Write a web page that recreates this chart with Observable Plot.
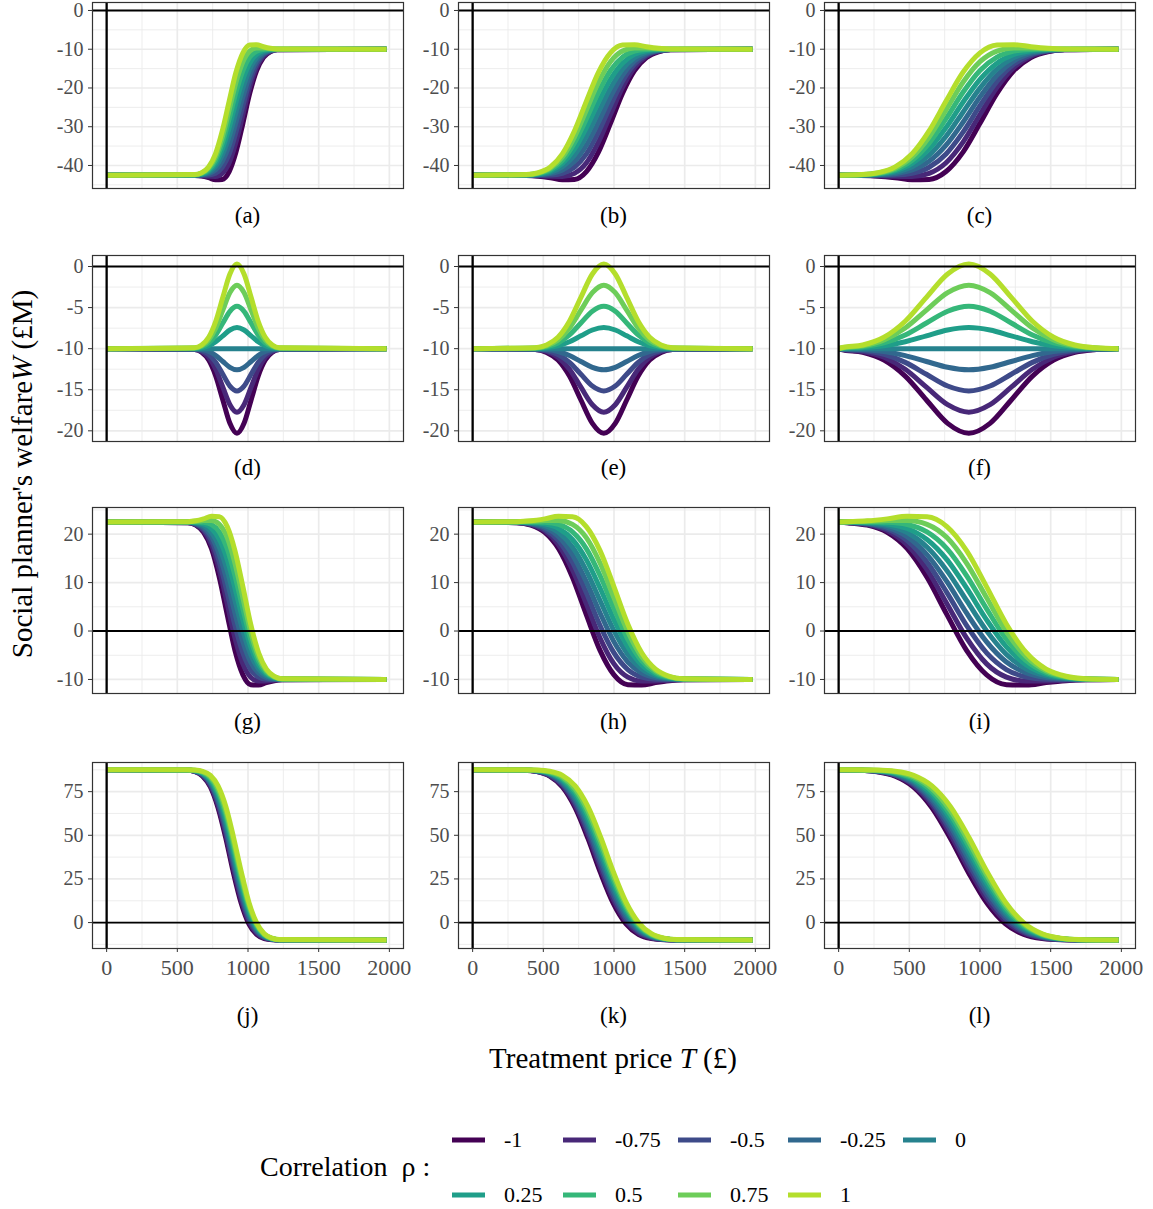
<!DOCTYPE html>
<html><head><meta charset="utf-8">
<script src="https://cdn.jsdelivr.net/npm/d3@7"></script>
<script src="https://cdn.jsdelivr.net/npm/@observablehq/plot@0.6"></script>
<style>
body{margin:0;background:#fff;}
#chart{position:relative;width:1153px;height:1209px;font-family:"Liberation Serif","Times New Roman",serif;background:#fff;overflow:hidden;color:#000}
.txt{position:absolute;white-space:nowrap;transform:translate(-50%,-50%);line-height:1}
.ltxt{position:absolute;white-space:nowrap;transform:translate(0,-50%);line-height:1}
.sw{position:absolute;height:5px;width:33px;transform:translate(0,-50%)}
</style></head><body><div id="chart"></div>
<script>
// ---- data ----
const rhos = [-1, -0.75, -0.5, -0.25, 0, 0.25, 0.5, 0.75, 1];
const rhoLabels = ["-1", "-0.75", "-0.5", "-0.25", "0", "0.25", "0.5", "0.75", "1"];
const rhoColors = ["#440154", "#482878", "#3E4A89", "#31688E", "#26828E", "#1F9E89", "#35B779", "#6DCD59", "#B4DE2C"];
const panelLabels = ["(a)", "(b)", "(c)", "(d)", "(e)", "(f)", "(g)", "(h)", "(i)", "(j)", "(k)", "(l)"];

// treatment price T (£) sample points for each panel
const priceA = [0, 624, 673, 721, 770, 818, 867, 915, 964, 1012, 1061, 1109, 1158, 1206, 1980];
const priceB = [0, 380, 465, 550, 635, 720, 805, 890, 975, 1060, 1145, 1230, 1315, 1400, 1980];
const priceC = [0, 160, 280, 400, 520, 640, 760, 880, 1000, 1120, 1240, 1360, 1480, 1600, 1980];
const priceD = [0, 622, 672, 722, 772, 822, 872, 922, 972, 1022, 1072, 1122, 1172, 1222, 1980];
const priceE = [0, 442, 523, 604, 685, 766, 847, 928, 1009, 1090, 1171, 1252, 1333, 1414, 1980];
const priceF = [0, 21, 171, 321, 471, 621, 771, 921, 1071, 1221, 1371, 1521, 1671, 1821, 1980];
const priceG = [0, 575, 631, 686, 742, 797, 853, 908, 964, 1019, 1075, 1130, 1186, 1241, 1980];
const priceH = [0, 314, 412, 510, 608, 706, 804, 902, 1000, 1098, 1196, 1294, 1392, 1490, 1980];
const priceI = [0, 63, 204, 344, 485, 625, 766, 906, 1047, 1187, 1328, 1468, 1609, 1749, 1980];
const priceJ = [0, 570, 625, 679, 734, 788, 843, 897, 952, 1006, 1061, 1115, 1170, 1224, 1980];
const priceK = [0, 365, 455, 545, 635, 725, 815, 905, 995, 1085, 1175, 1265, 1355, 1445, 1980];
const priceL = [0, 140, 270, 400, 530, 660, 790, 920, 1050, 1180, 1310, 1440, 1570, 1700, 1980];

// welfare W (£M), one list per rho (-1 ... 1), per row of panels
const welfareRow1 = [
  [-42.5, -42.57, -42.75, -43.15, -43.67, -43.59, -41.56, -36.55, -29.12, -21.41, -15.51, -12.13, -10.65, -10.15, -10],
  [-42.5, -42.55, -42.64, -42.81, -42.84, -42.03, -39.29, -33.98, -26.85, -19.85, -14.68, -11.79, -10.54, -10.13, -10],
  [-42.5, -42.52, -42.53, -42.46, -42.00, -40.46, -37.02, -31.40, -24.58, -18.28, -13.84, -11.44, -10.43, -10.10, -10],
  [-42.5, -42.49, -42.41, -42.11, -41.17, -38.90, -34.74, -28.83, -22.30, -16.72, -13.01, -11.09, -10.31, -10.07, -10],
  [-42.5, -42.46, -42.30, -41.76, -40.33, -37.34, -32.47, -26.25, -20.03, -15.16, -12.17, -10.74, -10.20, -10.04, -10],
  [-42.5, -42.43, -42.19, -41.41, -39.49, -35.78, -30.20, -23.67, -17.76, -13.60, -11.33, -10.39, -10.09, -10.01, -10],
  [-42.5, -42.40, -42.07, -41.06, -38.66, -34.22, -27.92, -21.10, -15.48, -12.04, -10.50, -10.04, -9.97, -9.98, -10],
  [-42.5, -42.37, -41.96, -40.71, -37.82, -32.65, -25.65, -18.52, -13.21, -10.47, -9.66, -9.69, -9.86, -9.95, -10],
  [-42.5, -42.35, -41.85, -40.37, -36.99, -31.09, -23.38, -15.95, -10.94, -8.91, -8.83, -9.35, -9.75, -9.93, -10]
];
const welfareRow2 = [
  [-10, -10.11, -10.45, -11.39, -13.34, -16.25, -19.09, -20.30, -19.09, -16.25, -13.34, -11.39, -10.45, -10.11, -10],
  [-10, -10.09, -10.34, -11.05, -12.51, -14.69, -16.82, -17.73, -16.82, -14.69, -12.51, -11.05, -10.34, -10.09, -10],
  [-10, -10.06, -10.23, -10.70, -11.67, -13.12, -14.55, -15.15, -14.55, -13.12, -11.67, -10.70, -10.23, -10.06, -10],
  [-10, -10.03, -10.11, -10.35, -10.84, -11.56, -12.27, -12.58, -12.27, -11.56, -10.84, -10.35, -10.11, -10.03, -10],
  [-10, -10, -10, -10, -10, -10, -10, -10, -10, -10, -10, -10, -10, -10, -10],
  [-10, -9.97, -9.89, -9.65, -9.16, -8.44, -7.73, -7.43, -7.73, -8.44, -9.16, -9.65, -9.89, -9.97, -10],
  [-10, -9.94, -9.77, -9.30, -8.33, -6.88, -5.45, -4.85, -5.45, -6.88, -8.33, -9.30, -9.77, -9.94, -10],
  [-10, -9.91, -9.66, -8.95, -7.49, -5.31, -3.18, -2.28, -3.18, -5.31, -7.49, -8.95, -9.66, -9.91, -10],
  [-10, -9.89, -9.55, -8.61, -6.66, -3.75, -0.91, 0.30, -0.91, -3.75, -6.66, -8.61, -9.55, -9.89, -10]
];
const welfareRow3 = [
  [22.5, 22.35, 21.85, 20.37, 16.99, 11.09, 3.38, -4.05, -9.06, -11.09, -11.17, -10.65, -10.25, -10.07, -10],
  [22.5, 22.37, 21.96, 20.71, 17.82, 12.66, 5.65, -1.48, -6.79, -9.53, -10.34, -10.31, -10.14, -10.05, -10],
  [22.5, 22.40, 22.07, 21.06, 18.66, 14.22, 7.93, 1.10, -4.52, -7.96, -9.50, -9.96, -10.03, -10.02, -10],
  [22.5, 22.43, 22.19, 21.41, 19.49, 15.78, 10.20, 3.68, -2.24, -6.40, -8.67, -9.61, -9.91, -9.99, -10],
  [22.5, 22.46, 22.30, 21.76, 20.33, 17.34, 12.47, 6.25, 0.03, -4.84, -7.83, -9.26, -9.80, -9.96, -10],
  [22.5, 22.49, 22.41, 22.11, 21.17, 18.90, 14.74, 8.83, 2.30, -3.28, -6.99, -8.91, -9.69, -9.93, -10],
  [22.5, 22.52, 22.53, 22.46, 22.00, 20.46, 17.02, 11.40, 4.58, -1.72, -6.16, -8.56, -9.57, -9.90, -10],
  [22.5, 22.55, 22.64, 22.81, 22.84, 22.03, 19.29, 13.98, 6.85, -0.15, -5.32, -8.21, -9.46, -9.87, -10],
  [22.5, 22.57, 22.75, 23.15, 23.67, 23.59, 21.56, 16.55, 9.12, 1.41, -4.49, -7.87, -9.35, -9.85, -10]
];
const welfareRow4 = [
  [87.5, 87.26, 86.45, 83.89, 77.65, 65.78, 48.33, 28.45, 10.99, -0.78, -6.83, -9.17, -9.85, -9.98, -10],
  [87.5, 87.28, 86.56, 84.23, 78.48, 67.34, 50.60, 31.02, 13.26, 0.78, -6.00, -8.83, -9.74, -9.96, -10],
  [87.5, 87.31, 86.67, 84.58, 79.32, 68.91, 52.87, 33.60, 15.53, 2.35, -5.16, -8.48, -9.63, -9.93, -10],
  [87.5, 87.34, 86.79, 84.93, 80.15, 70.47, 55.15, 36.17, 17.81, 3.91, -4.33, -8.13, -9.51, -9.90, -10],
  [87.5, 87.37, 86.90, 85.28, 80.99, 72.03, 57.42, 38.75, 20.08, 5.47, -3.49, -7.78, -9.40, -9.87, -10],
  [87.5, 87.40, 87.01, 85.63, 81.83, 73.59, 59.69, 41.33, 22.35, 7.03, -2.65, -7.43, -9.29, -9.84, -10],
  [87.5, 87.43, 87.13, 85.98, 82.66, 75.15, 61.97, 43.90, 24.63, 8.59, -1.82, -7.08, -9.17, -9.81, -10],
  [87.5, 87.46, 87.24, 86.33, 83.50, 76.72, 64.24, 46.48, 26.90, 10.16, -0.98, -6.73, -9.06, -9.78, -10],
  [87.5, 87.48, 87.35, 86.67, 84.33, 78.28, 66.51, 49.05, 29.17, 11.72, -0.15, -6.39, -8.95, -9.76, -10]
];

// axes
const xTicks = [0, 500, 1000, 1500, 2000];
const xMinor = [250, 750, 1250, 1750];
const yTicksRow1 = [0, -10, -20, -30, -40];
const yTicksRow2 = [0, -5, -10, -15, -20];
const yTicksRow3 = [20, 10, 0, -10];
const yTicksRow4 = [75, 50, 25, 0];
const yMinorRow1 = [-5, -15, -25, -35, -45];
const yMinorRow2 = [-2.5, -7.5, -12.5, -17.5];
const yMinorRow3 = [25, 15, 5, -5];
const yMinorRow4 = [87.5, 62.5, 37.5, 12.5, -12.5];
const yDomainRow1 = [-45.94, 2.06];
const yDomainRow2 = [-21.3, 1.34];
const yDomainRow3 = [-12.9, 25.5];
const yDomainRow4 = [-14.85, 91.7];

// ---- drawing ----
const prices = [priceA, priceB, priceC, priceD, priceE, priceF, priceG, priceH, priceI, priceJ, priceK, priceL];
const welfareRows = [welfareRow1, welfareRow2, welfareRow3, welfareRow4];
const yTicks = [yTicksRow1, yTicksRow2, yTicksRow3, yTicksRow4];
const yMinor = [yMinorRow1, yMinorRow2, yMinorRow3, yMinorRow4];
const yDomains = [yDomainRow1, yDomainRow2, yDomainRow3, yDomainRow4];

const chart = document.getElementById("chart");
const colLefts = [92, 458, 824];
const rowTops = [2, 255, 507, 762];
const frameW = 311, frameH = 186;
const ML = 60, MR = 2, MT = 2;
const labelY = [215, 467, 721, 1015];
const fmt = d => String(d);

for (let p = 0; p < 12; p++) {
  const row = Math.floor(p / 3), col = p % 3;
  const data = [];
  rhos.forEach((rho, i) => {
    prices[p].forEach((T, k) => data.push({T, W: welfareRows[row][i][k], rho}));
  });
  const bottom = row === 3;
  const MB = bottom ? 48 : 2;
  const marks = [
    Plot.gridX(xMinor, {stroke: "#EBEBEB", strokeOpacity: 1, strokeWidth: 0.9}),
    Plot.gridX(xTicks, {stroke: "#EBEBEB", strokeOpacity: 1, strokeWidth: 1.7}),
    Plot.gridY(yMinor[row], {stroke: "#EBEBEB", strokeOpacity: 1, strokeWidth: 0.9}),
    Plot.gridY(yTicks[row], {stroke: "#EBEBEB", strokeOpacity: 1, strokeWidth: 1.7}),
    Plot.line(data, {x: "T", y: "W", z: "rho", stroke: "rho", strokeWidth: 5, curve: "monotone-x", strokeLinejoin: "round", strokeLinecap: "butt"}),
    Plot.ruleX([0], {stroke: "black", strokeWidth: 2.3}),
    Plot.ruleY([0], {stroke: "black", strokeWidth: 1.8}),
    Plot.frame({stroke: "#333333", strokeWidth: 1.2}),
    Plot.axisY(yTicks[row], {tickSize: 4, tickPadding: 5, label: null, tickFormat: fmt, fontSize: 20, fill: "#4D4D4D", stroke: "#333333"})
  ];
  if (bottom) marks.push(Plot.axisX(xTicks, {tickSize: 4, tickPadding: 7, label: null, tickFormat: fmt, fontSize: 22, fill: "#4D4D4D", stroke: "#333333"}));
  const svg = Plot.plot({
    width: ML + frameW + MR,
    height: MT + frameH + MB,
    marginLeft: ML, marginRight: MR, marginTop: MT, marginBottom: MB,
    style: {fontFamily: '"Liberation Serif", "Times New Roman", serif', fontSize: "20px", color: "#4D4D4D", background: "transparent", overflow: "visible"},
    x: {domain: [-100, 2100], axis: bottom ? undefined : null},
    y: {domain: yDomains[row]},
    color: {type: "ordinal", domain: rhos, range: rhoColors},
    marks
  });
  svg.style.position = "absolute";
  svg.style.left = (colLefts[col] - ML) + "px";
  svg.style.top = (rowTops[row] - MT) + "px";
  svg.style.maxWidth = "none";
  chart.appendChild(svg);

  const lab = document.createElement("div");
  lab.className = "txt";
  lab.style.left = (colLefts[col] + frameW / 2) + "px";
  lab.style.top = labelY[row] + "px";
  lab.style.fontSize = "23px";
  lab.textContent = panelLabels[p];
  chart.appendChild(lab);
}

// axis titles
const xt = document.createElement("div");
xt.className = "txt";
xt.style.left = "613px"; xt.style.top = "1058px"; xt.style.fontSize = "29px";
xt.innerHTML = 'Treatment price <i>T</i> (£)';
chart.appendChild(xt);

const yt = document.createElement("div");
yt.className = "txt";
yt.style.left = "22px"; yt.style.top = "474px"; yt.style.fontSize = "29px";
yt.style.transform = "translate(-50%,-50%) rotate(-90deg)";
yt.innerHTML = "Social planner's welfare<i>W</i> (£M)";
chart.appendChild(yt);

// legend
const lt = document.createElement("div");
lt.className = "ltxt";
lt.style.left = "260px"; lt.style.top = "1167px"; lt.style.fontSize = "28px";
lt.innerHTML = 'Correlation&nbsp;&nbsp;ρ&nbsp;:';
chart.appendChild(lt);

const swX = [452, 563, 678, 788, 903];
const swY = [1140, 1195];
rhos.forEach((rho, i) => {
  const r = i < 5 ? 0 : 1, c = i < 5 ? i : i - 5;
  const sw = document.createElement("div");
  sw.className = "sw";
  sw.style.left = swX[c] + "px"; sw.style.top = swY[r] + "px";
  sw.style.background = rhoColors[i];
  chart.appendChild(sw);
  const t = document.createElement("div");
  t.className = "ltxt";
  t.style.left = (swX[c] + 52) + "px"; t.style.top = swY[r] + "px";
  t.style.fontSize = "22px";
  t.textContent = rhoLabels[i];
  chart.appendChild(t);
});
</script></body></html>
